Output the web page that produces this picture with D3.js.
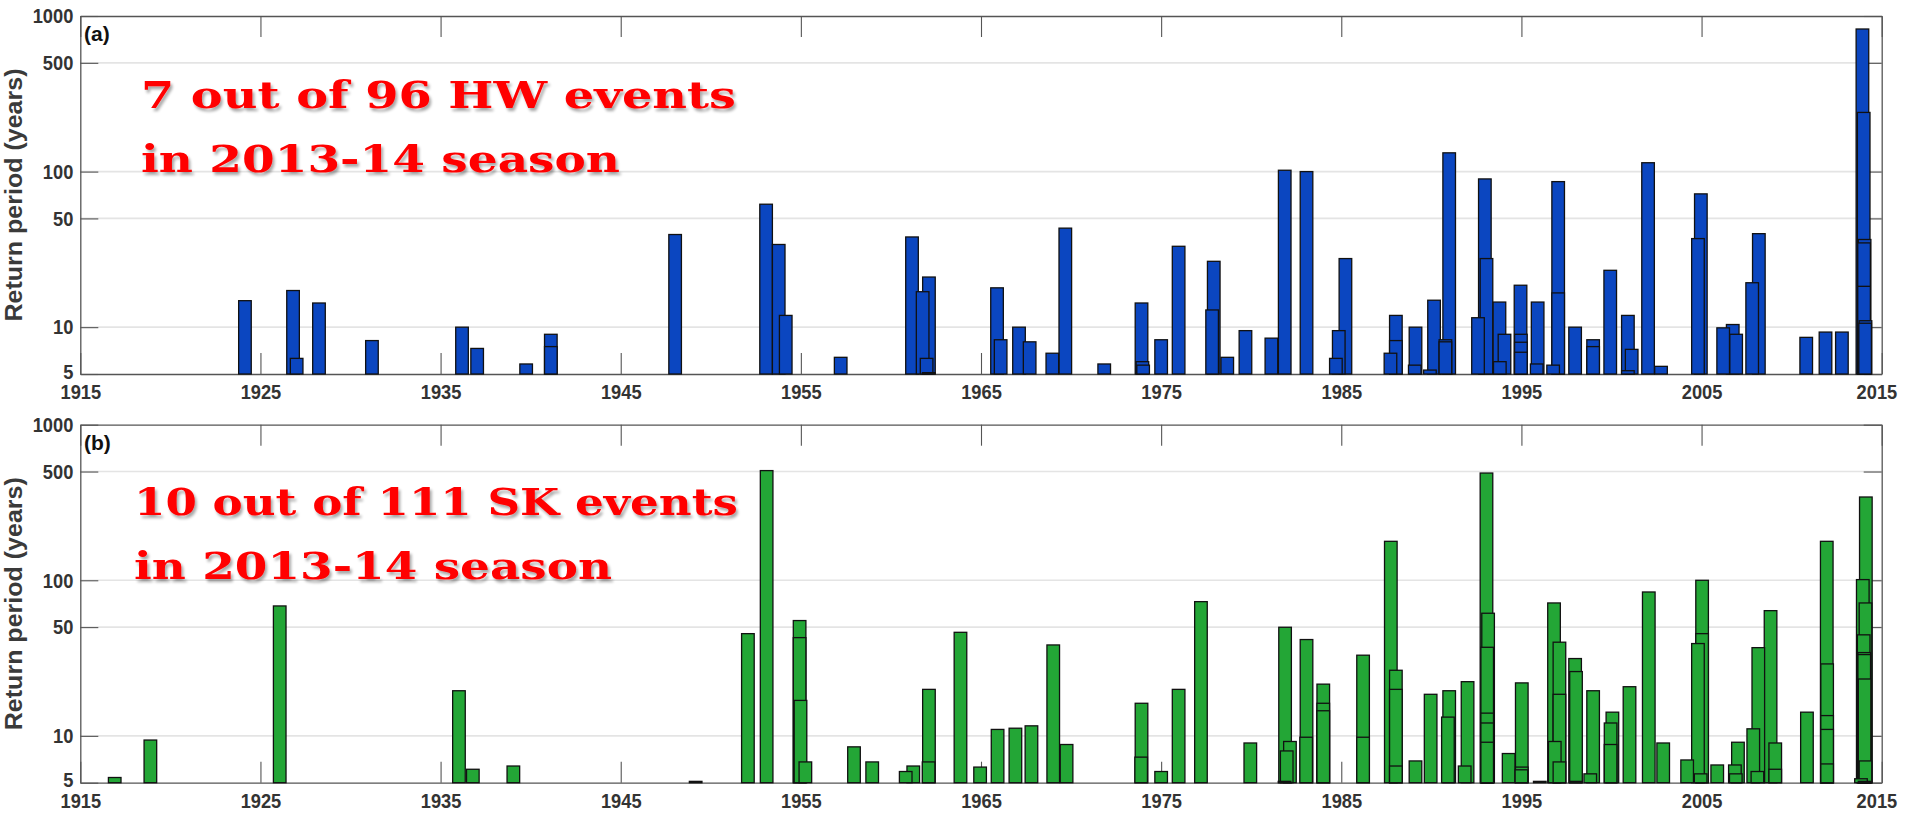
<!DOCTYPE html>
<html>
<head>
<meta charset="utf-8">
<script src="https://cdn.jsdelivr.net/npm/d3@7"></script>
<style>
  html, body { margin: 0; padding: 0; background: #fff; }
  svg { display: block; }
  .tick text { font-family: "Liberation Sans", Arial, sans-serif; font-weight: bold; font-size: 21px; fill: #333; }
  .tick line { stroke: #555; stroke-width: 1.1; }
  .domain { stroke: #555; stroke-width: 1.3; }
</style>
</head>
<body>
<svg id="chart" width="1907" height="815"></svg>
<script>
// ---- Heat-wave (HW) events: event date (decimal year) and return period (years)
const hwDate = [1924.14, 1926.81, 1927.01, 1928.25, 1931.19, 1936.19, 1937.03, 1939.75, 1941.12, 1941.12,
  1948.02, 1953.07, 1953.77, 1954.16, 1957.21, 1961.17, 1962.11, 1961.76, 1961.98, 1962.10,
  1965.89, 1966.09, 1967.11, 1967.70, 1968.96, 1969.68, 1971.84, 1973.91, 1973.96, 1974.00,
  1975.00, 1975.97, 1977.92, 1977.83, 1978.67, 1979.68, 1981.12, 1981.86, 1983.07, 1984.70,
  1984.86, 1985.23, 1987.73, 1988.03, 1988.03, 1989.12, 1989.08, 1989.92, 1990.15, 1990.78,
  1990.78, 1990.99, 1992.59, 1992.97, 1993.06, 1993.78, 1993.80, 1994.06, 1994.95, 1994.97,
  1994.97, 1994.97, 1995.90, 1995.85, 1996.76, 1997.04, 1997.04, 1997.98, 1998.98, 1998.98,
  1999.93, 2000.91, 2001.12, 2000.91, 2002.03, 2002.75, 2004.96, 2004.80, 2006.20, 2006.73,
  2006.92, 2008.18, 2007.81, 2010.81, 2011.88, 2012.79, 2013.93, 2014.00, 2014.05, 2014.02,
  2014.02, 2014.10, 2014.08];
const hwReturn = [14.8, 17.2, 6.3, 14.3, 8.2, 10.0, 7.3, 5.8, 9.0, 7.5,
  39.4, 61.7, 34.0, 11.9, 6.4, 38.0, 21.0, 16.9, 6.3, 5.1,
  17.9, 8.3, 10.0, 8.05, 6.8, 43.3, 5.8, 14.3, 6.0, 5.7,
  8.3, 33.1, 26.5, 12.9, 6.4, 9.5, 8.5, 102, 100, 6.3,
  9.5, 27.6, 6.8, 11.9, 8.2, 10.0, 5.7, 5.3, 14.9, 8.3,
  8.05, 132, 11.5, 89.7, 27.6, 14.5, 6.0, 9.0, 18.6, 9.0,
  8.0, 6.9, 14.5, 5.8, 5.7, 86.2, 16.6, 10.0, 8.3, 7.5,
  23.2, 11.9, 7.2, 5.25, 114, 5.6, 71.9, 37.1, 9.9, 10.4,
  9.0, 39.9, 19.3, 8.6, 9.3, 9.3, 825, 240, 36.6, 34.8,
  18.3, 11.0, 10.6];

// ---- Storm (SK) events: event date (decimal year) and return period (years)
const skDate = [1916.91, 1918.89, 1926.07, 1936.02, 1936.79, 1939.04, 1949.16, 1952.06, 1953.10, 1954.93,
  1954.93, 1954.98, 1955.25, 1957.95, 1958.96, 1960.82, 1961.24, 1962.11, 1962.09, 1963.86,
  1964.95, 1965.92, 1966.91, 1967.80, 1969.01, 1969.75, 1973.91, 1973.89, 1975.00, 1975.97,
  1977.21, 1979.95, 1981.88, 1981.97, 1982.15, 1981.85, 1983.07, 1983.05, 1984.00, 1984.00,
  1984.00, 1986.21, 1986.21, 1987.75, 1988.03, 1988.03, 1988.03, 1989.12, 1989.96, 1990.99,
  1990.92, 1992.01, 1991.85, 1993.06, 1993.15, 1993.10, 1993.10, 1993.10, 1993.10, 1994.29,
  1995.02, 1995.02, 1995.00, 1996.02, 1996.81, 1997.11, 1997.11, 1996.85, 1997.11, 1997.98,
  1998.03, 1998.03, 1998.98, 1998.82, 2000.05, 1999.95, 1999.95, 2001.00, 2002.07, 2002.87,
  2004.20, 2005.03, 2005.03, 2004.80, 2004.95, 2005.87, 2007.02, 2006.85, 2006.90, 2008.15,
  2007.87, 2008.10, 2008.83, 2009.09, 2009.09, 2010.85, 2011.95, 2011.97, 2011.97, 2011.97,
  2011.97, 2014.12, 2013.95, 2014.10, 2014.00, 2014.03, 2014.03, 2014.05, 2014.10, 2013.85,
  2014.05];
const skReturn = [5.4, 9.4, 68.4, 19.5, 6.1, 6.4, 5.1, 45.4, 507, 55.1,
  42.8, 16.9, 6.8, 8.5, 6.8, 5.9, 6.4, 19.9, 6.8, 46.3,
  6.3, 11.0, 11.2, 11.6, 38.4, 8.8, 16.2, 7.3, 5.9, 19.9,
  72.9, 9.0, 49.9, 8.0, 9.2, 5.1, 41.6, 9.8, 21.5, 16.2,
  14.5, 33.0, 9.8, 178, 26.4, 19.9, 6.4, 6.9, 18.5, 19.5,
  13.2, 22.3, 6.4, 489, 61.4, 37.1, 14.0, 12.1, 9.1, 7.7,
  21.9, 6.3, 6.05, 5.1, 71.5, 40.0, 18.5, 9.2, 6.8, 31.4,
  25.9, 5.1, 19.5, 5.7, 14.2, 12.1, 8.8, 20.7, 84.1, 9.0,
  7.0, 100, 45.4, 39.2, 5.7, 6.5, 9.1, 6.5, 5.7, 36.9,
  11.1, 5.9, 63.8, 9.0, 6.1, 14.2, 178, 29.0, 13.5, 11.0,
  6.6, 343, 101, 71.5, 44.6, 34.3, 33.3, 23.2, 6.9, 5.3,
  5.1];

// ---- Axis ticks and labels
const yearTicks = [1915, 1925, 1935, 1945, 1955, 1965, 1975, 1985, 1995, 2005, 2015];
const returnTicks = [5, 10, 50, 100, 500, 1000];
const gridValues = [10, 50, 100, 500];
const yTitle = "Return period (years)";
const panelTags = ["(a)", "(b)"];
const hwNote = ["7 out of 96 HW events", "in 2013-14 season"];
const skNote = ["10 out of 111 SK events", "in 2013-14 season"];

const svg = d3.select("#chart");

// soft grey drop shadow behind the red annotation
const defs = svg.append("defs");
const f = defs.append("filter").attr("id", "softShadow")
  .attr("x", "-5%").attr("y", "-20%").attr("width", "110%").attr("height", "140%");
f.append("feGaussianBlur").attr("in", "SourceAlpha").attr("stdDeviation", 1.6).attr("result", "b");
f.append("feOffset").attr("in", "b").attr("dx", 2).attr("dy", 2.5).attr("result", "o");
f.append("feComponentTransfer").attr("in", "o").attr("result", "s")
  .append("feFuncA").attr("type", "linear").attr("slope", 0.35);
const m = f.append("feMerge");
m.append("feMergeNode").attr("in", "s");
m.append("feMergeNode").attr("in", "SourceGraphic");

const left = 80.3, right = 1881.7;
const x = d3.scaleLinear().domain([1915, 2015]).range([left, right]);
const barW = 0.7; // bar width in years

// narrow the axis digits a little, like a condensed face
function condense(sel) {
  sel.selectAll(".tick text").each(function () {
    const w = this.getComputedTextLength();
    if (w > 0) d3.select(this).attr("textLength", w * 0.87).attr("lengthAdjust", "spacingAndGlyphs");
  });
}

function drawPanel(cfg) {
  const y = d3.scaleLog().domain([5, 1000]).range([cfg.bottom, cfg.top]);
  const g = svg.append("g");

  // horizontal grid
  g.append("g").selectAll("line").data(gridValues).join("line")
    .attr("x1", left).attr("x2", right)
    .attr("y1", d => y(d)).attr("y2", d => y(d))
    .attr("stroke", "#e4e4e4").attr("stroke-width", 1.6);

  // axes on all four sides, ticks pointing inward
  const yAx = g.append("g").attr("transform", `translate(${left},0)`)
    .call(d3.axisLeft(y).tickValues(returnTicks).tickFormat(d3.format("d"))
      .tickSizeInner(-18).tickSizeOuter(0).tickPadding(7));
  yAx.selectAll(".tick text").filter(d => d === 5).attr("dy", "0.2em");
  condense(yAx);
  g.append("g").attr("transform", `translate(${right},0)`)
    .call(d3.axisRight(y).tickValues(returnTicks).tickFormat("")
      .tickSizeInner(-18).tickSizeOuter(0));
  const xAx = g.append("g").attr("transform", `translate(0,${cfg.bottom})`)
    .call(d3.axisBottom(x).tickValues(yearTicks).tickFormat(d3.format("d"))
      .tickSizeInner(-21).tickSizeOuter(0).tickPadding(10));
  condense(xAx);
  // keep the last year label inside the page edge
  xAx.selectAll(".tick text").filter(d => d === 2015).attr("text-anchor", "end").attr("dx", "15");
  g.append("g").attr("transform", `translate(0,${cfg.top})`)
    .call(d3.axisTop(x).tickValues(yearTicks).tickFormat("")
      .tickSizeInner(-21).tickSizeOuter(0));

  // bars: tallest first so shorter events stay visible in front
  const events = cfg.date.map((d, i) => ({ d, v: cfg.value[i] }))
    .sort((a, b) => b.v - a.v);
  g.append("g").selectAll("rect").data(events).join("rect")
    .attr("x", e => x(e.d - barW / 2))
    .attr("width", e => x(e.d + barW / 2) - x(e.d - barW / 2))
    .attr("y", e => y(e.v))
    .attr("height", e => y(5) - y(e.v))
    .attr("fill", cfg.color)
    .attr("stroke", "#111").attr("stroke-width", 1.3);

  // y title
  g.append("text")
    .attr("transform", `translate(22,${(cfg.top + cfg.bottom) / 2}) rotate(-90)`)
    .attr("text-anchor", "middle")
    .attr("font-family", "Liberation Sans, Arial, sans-serif")
    .attr("font-weight", "bold").attr("font-size", 24).attr("fill", "#3a3a3a")
    .attr("textLength", 253).attr("lengthAdjust", "spacingAndGlyphs")
    .text(yTitle);

  // panel tag
  g.append("text").attr("x", 84).attr("y", cfg.top + 25)
    .attr("font-family", "Liberation Sans, Arial, sans-serif")
    .attr("font-weight", "bold").attr("font-size", 21).attr("fill", "#111")
    .text(cfg.tag);

  // red annotation
  const note = g.append("g").attr("filter", "url(#softShadow)");
  cfg.note.forEach((line, i) => {
    note.append("text")
      .attr("x", cfg.noteX).attr("y", cfg.top + cfg.noteY[i])
      .attr("font-family", "DejaVu Serif, serif")
      .attr("font-weight", "bold").attr("font-size", 38).attr("fill", "#ff0000")
      .attr("textLength", cfg.noteW[i]).attr("lengthAdjust", "spacingAndGlyphs")
      .text(line);
  });
}

drawPanel({ top: 16, bottom: 374, date: hwDate, value: hwReturn, color: "#0b46c0",
  tag: panelTags[0], note: hwNote, noteX: 141, noteY: [92, 156], noteW: [595, 479] });
drawPanel({ top: 424.7, bottom: 782.7, date: skDate, value: skReturn, color: "#23a636",
  tag: panelTags[1], note: skNote, noteX: 134, noteY: [90, 154], noteW: [604, 478] });
</script>
</body>
</html>
